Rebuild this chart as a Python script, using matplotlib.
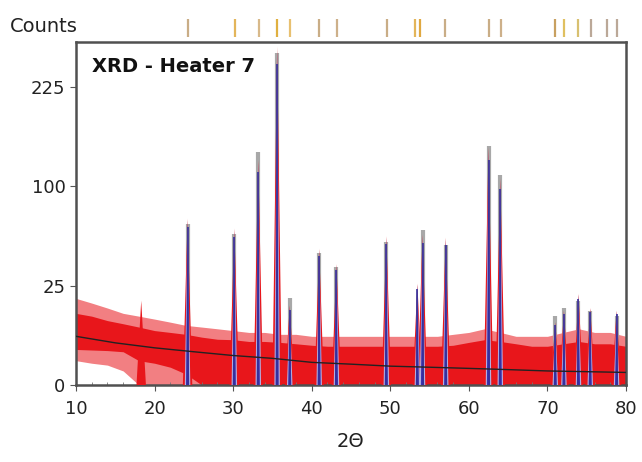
import numpy as np
import matplotlib
matplotlib.use('Agg')
import matplotlib.pyplot as plt
from matplotlib.transforms import blended_transform_factory

env_x = [10, 12, 14, 16, 18, 20, 22, 24, 26, 28, 30, 32, 34, 36, 38, 40, 42, 44, 46, 48, 50,
         52, 54, 56, 58, 60, 62, 64, 66, 68, 70, 72, 74, 76, 78, 80]
dense_top = [13, 12, 10.5, 9.5, 8.5, 7.5, 7, 6.5, 5.8, 5.3, 5.2, 4.8, 4.8, 4.6, 4.3, 4, 3.8, 3.8, 3.8, 3.8, 3.8,
             3.8, 3.8, 3.8, 4, 4.6, 5.2, 4.8, 4.3, 3.8, 3.8, 4.3, 4.8, 4.3, 4.3, 3.8]
dense_bot = [3.2, 3.1, 3, 2.8, 1.5, 1.2, 0.8, 0.3, 0, 0, 0, 0, 0, 0, 0, 0, 0, 0, 0, 0, 0,
             0, 0, 0, 0, 0, 0, 0, 0, 0, 0, 0, 0, 0, 0, 0]
spike_top = [19, 17, 15, 13, 12, 11, 10, 9, 8.5, 8, 7.5, 7, 7, 6.5, 6.5, 6, 6, 6, 6, 6, 6,
             6, 6, 6, 6.5, 7, 8, 7, 6, 6, 6, 7, 8, 7, 7, 6]
spike_bot = [1.5, 1.2, 1, 0.5, 0, 0, 0, 0, 0, 0, 0, 0, 0, 0, 0, 0, 0, 0, 0, 0, 0,
             0, 0, 0, 0, 0, 0, 0, 0, 0, 0, 0, 0, 0, 0, 0]

# fitted background
bg_x = [10, 15, 20, 25, 30, 35, 40, 45, 50, 55, 60, 65, 70, 75, 80]
bg_y = [6, 4.5, 3.5, 2.8, 2.2, 1.8, 1.3, 1.1, 0.9, 0.8, 0.7, 0.6, 0.5, 0.45, 0.4]

# peaks: position (2theta), height (counts), reference stick height
peak_pos = [18.3, 24.2, 30.15, 33.2, 35.6, 37.2, 40.95, 43.15, 49.5, 53.45, 54.1, 57.05,
            62.5, 64.0, 71.0, 72.1, 73.95, 75.45, 78.8]
peak_hgt = [18, 70, 62, 128, 290, 16, 47, 37, 56, 26, 57, 55, 143, 108, 10, 14, 21, 15, 14]
stick_hgt = [0, 66, 58, 137, 280, 19, 44, 35, 52, 0, 61, 50, 145, 112, 12, 15, 18, 14, 12]

# reference lines shown above the plot
ref_pos = [24.27, 30.2, 33.29, 35.57, 37.19, 40.91, 43.25, 49.55, 53.2, 53.83, 57.01,
           62.51, 64.09, 70.98, 72.13, 73.94, 75.52, 77.63, 78.9]

fig = plt.figure(figsize=(6.42, 4.62), dpi=100)
ax = fig.add_axes([76 / 642, 77 / 462, 550 / 642, 343 / 462])
ax.set_yscale('function', functions=(lambda v: np.sqrt(np.clip(v, 0, None)), lambda v: v ** 2))

red = '#e8161b'
ax.fill_between(env_x, spike_bot, spike_top, color=red, alpha=0.55, lw=0)
ax.fill_between(env_x, dense_bot, dense_top, color=red, lw=0)

for p, h, s in zip(peak_pos, peak_hgt, stick_hgt):
    if s > 0:
        ax.vlines(p, 0, s, color='#a8a8a8', lw=3, zorder=2)
    ax.fill([p - 0.6, p, p + 0.6], [0, h, 0], color=red, lw=0, zorder=3)
    if p > 20:
        ax.fill([p - 0.35, p, p + 0.35], [0, h * 0.97, 0], color='#b4aee0', lw=0, zorder=4)
        ax.fill([p - 0.2, p, p + 0.2], [0, h * 0.97, 0], color='#3b33b0', lw=0, zorder=5)
        ax.vlines(p, 0, h * 0.9, color='#35309a', lw=1.2, zorder=5)

ax.plot(bg_x, bg_y, color='#222222', lw=1.0, zorder=6)

ax.set_xlim(10, 80)
ax.set_ylim(0, 298)
ax.set_xticks(range(10, 81, 10))
ax.set_xticks(range(10, 81, 2), minor=True)
ax.set_yticks([0, 25, 100, 225])
ax.tick_params(axis='both', labelsize=13, color='#555555', length=4, labelcolor='#222222')
ax.tick_params(axis='x', pad=7)
ax.tick_params(axis='x', which='minor', length=2, direction='in', color='#777777')
for sp in ax.spines.values():
    sp.set_color('#505050')
    sp.set_linewidth(1.8)

ax.set_xlabel('2Θ', fontsize=14, color='#222222', labelpad=10)
ax.text(0.03, 0.93, 'XRD - Heater 7', transform=ax.transAxes, fontsize=14,
        fontweight='bold', color='#111111', va='center')
fig.text(10 / 642, 1 - 27 / 462, 'Counts', fontsize=14, color='#222222', va='center')

trans = blended_transform_factory(ax.transData, ax.transAxes)
ref_colors = ['#c9ad86', '#e3b55a', '#d8b98a', '#e0b040', '#e8c070', '#c9ad86', '#cdb08a',
              '#c9ad86', '#e3b55a', '#e0a840', '#c9ad86', '#c9ad86', '#cdb08a', '#c8a060',
              '#e0c060', '#d8c070', '#bba898', '#bba898', '#bba898']
ax.vlines(ref_pos, 1.0146, 1.067, colors=ref_colors, lw=1.6, transform=trans, clip_on=False)

fig.savefig('out.png', dpi=100)
